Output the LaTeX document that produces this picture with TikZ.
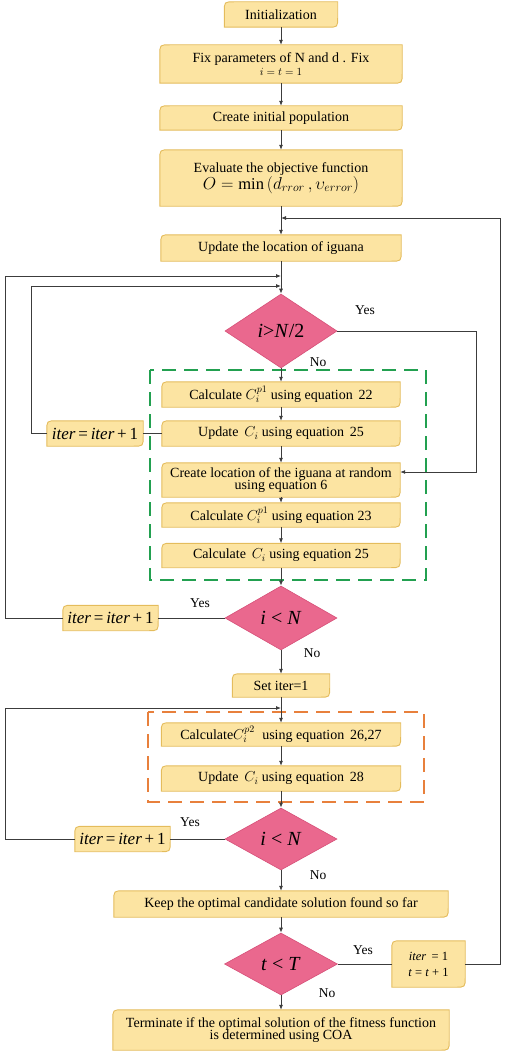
\documentclass[tikz,border=0pt]{standalone}
\usepackage{fontspec}
\setmainfont{Liberation Serif}
\usetikzlibrary{shapes.geometric,arrows.meta}
\pgfdeclarelayer{bg}
\pgfsetlayers{bg,main}
\definecolor{yfill}{RGB}{252,228,162}
\definecolor{yedge}{RGB}{228,188,92}
\definecolor{pfill}{RGB}{234,104,142}
\definecolor{pedge}{RGB}{214,80,120}
\definecolor{gdash}{RGB}{34,160,80}
\definecolor{odash}{RGB}{232,128,60}
\definecolor{lcol}{RGB}{60,60,60}
\begin{document}
\begin{tikzpicture}[x=1pt,y=-1pt,
 box/.style={rectangle, inner sep=1pt, align=center, font=\fontsize{14}{15.5}\selectfont, text=black},
 itbox/.style={box, font=\fontsize{17}{18}\selectfont},
 dia/.style={diamond, fill=pfill, draw=pedge, line width=0.6pt, inner sep=0pt, font=\fontsize{20}{22}\selectfont},
 flow/.style={draw=lcol, line width=0.8pt, -{Latex[length=5pt,width=4pt]}},
 link/.style={draw=lcol, line width=0.8pt},
 lab/.style={font=\fontsize{13.5}{14}\selectfont},
 yshape/.style={fill=yfill, draw=yedge, line width=0.9pt},
 ]
\useasboundingbox (0,0) rectangle (505,1054);
% dashed groups
\draw[gdash, line width=2.2pt, dash pattern=on 14pt off 8pt] (150,370) rectangle (426,580);
\draw[odash, line width=2.2pt, dash pattern=on 14pt off 8pt] (148,712) rectangle (424,802);
% nodes
\node[box, minimum width=113pt, minimum height=25pt] (init) at (281,14.5) {Initialization};
\node[box, minimum width=242pt, minimum height=38pt] (fix) at (281,64) {Fix parameters of N and d . Fix\\[-2pt]{\fontsize{10.5}{11}\selectfont$i=t=1$}};
\node[box, minimum width=242pt, minimum height=24pt] (create) at (281,118) {Create initial population};
\node[box, minimum width=242pt, minimum height=56pt] (eval) at (281,178) {Evaluate the objective function\\{\fontsize{16.5}{18}\selectfont$O=\min\,(d_{rror}\,,\upsilon_{error})$}};
\node[box, minimum width=240pt, minimum height=26pt] (upd) at (281,248) {Update the location of iguana};
\node[dia, minimum width=112pt, minimum height=74pt] (d1) at (281,331) {\textit{i}>\textit{N}/2};
\node[box, minimum width=238pt, minimum height=25pt] (c1) at (281,394.5) {Calculate $C_i^{p1}$ using equation\, 22};
\node[box, minimum width=238pt, minimum height=25pt] (u1) at (281,433.5) {Update\, $C_i$ using equation\, 25};
\node[itbox, minimum width=96pt, minimum height=25pt] (it1) at (95,433.5) {\textit{iter}\,=\,\textit{iter}\,+\,1};
\node[box, minimum width=238pt, minimum height=34pt] (cr) at (281,480) {Create location of the iguana at random\\[-3pt]using equation 6};
\node[box, minimum width=238pt, minimum height=24pt] (c2) at (281,515) {Calculate $C_i^{p1}$ using equation 23};
\node[box, minimum width=238pt, minimum height=24pt] (c3) at (281,555.5) {Calculate\, $C_i$ using equation 25};
\node[dia, minimum width=112pt, minimum height=64pt] (d2) at (281,618) {\textit{i} < \textit{N}};
\node[itbox, minimum width=95pt, minimum height=25pt] (it2) at (110.5,618) {\textit{iter}\,=\,\textit{iter}\,+\,1};
\node[box, minimum width=97pt, minimum height=23pt] (set) at (281,685.5) {Set iter=1};
\node[box, minimum width=239pt, minimum height=23pt] (c4) at (281,734.5) {Calculate$C_i^{p2}$\; using equation\, 26,27};
\node[box, minimum width=239pt, minimum height=25pt] (u2) at (281,778.5) {Update\, $C_i$ using equation\, 28};
\node[dia, minimum width=112pt, minimum height=62pt] (d3) at (281,839) {\textit{i} < \textit{N}};
\node[itbox, minimum width=95pt, minimum height=25pt] (it3) at (122.5,839) {\textit{iter}\,=\,\textit{iter}\,+\,1};
\node[box, minimum width=334pt, minimum height=26pt] (keep) at (281,904) {Keep the optimal candidate solution found so far};
\node[dia, minimum width=113pt, minimum height=62pt] (d4) at (281,964) {\textit{t} < \textit{T}};
\node[box, minimum width=73pt, minimum height=46pt, font=\fontsize{12.5}{16}\selectfont] (upd2) at (428.5,964) {\textit{iter}\, = 1\\\textit{t} = \textit{t} + 1};
\node[box, minimum width=336pt, minimum height=40pt] (term) at (281,1030) {Terminate if the optimal solution of the fitness function\\[-3pt]is determined using COA};
% yellow shapes
\begin{pgfonlayer}{bg}
\foreach \n in {init,fix,create,eval,upd,c1,u1,it1,cr,c2,c3,it2,set,c4,u2,it3,keep,upd2,term}
  \path[yshape] (\n.south west) -- ([yshift=-10pt]\n.north west) .. controls (\n.north west) .. ([xshift=10pt]\n.north west) -- (\n.north east) -- ([yshift=10pt]\n.south east) .. controls (\n.south east) .. ([xshift=-10pt]\n.south east) -- cycle;
\end{pgfonlayer}
% junction points on the main axis
\coordinate (j4) at (281,218);
\coordinate (j1) at (281,276);
\coordinate (j2) at (281,286);
\coordinate (j3) at (281,708);
% main flow
\draw[flow] (init.south) -- (fix.north);
\draw[flow] (fix.south) -- (create.north);
\draw[flow] (create.south) -- (eval.north);
\draw[flow] (eval.south) -- (upd.north);
\draw[flow] (upd.south) -- (d1.north);
\draw[flow] (d1.south) -- (c1.north);
\draw[flow] (c1.south) -- (u1.north);
\draw[flow] (u1.south) -- (cr.north);
\draw[flow] (cr.south) -- (c2.north);
\draw[flow] (c2.south) -- (c3.north);
\draw[flow] (c3.south) -- (d2.north);
\draw[flow] (d2.south) -- (set.north);
\draw[flow] (set.south) -- (c4.north);
\draw[flow] (c4.south) -- (u2.north);
\draw[flow] (u2.south) -- (d3.north);
\draw[flow] (d3.south) -- (keep.north);
\draw[flow] (keep.south) -- (d4.north);
\draw[flow] (d4.south) -- (term.north);
% side branches
\draw[flow] (d1.east) -- (476,331) |- ([yshift=8pt]cr.east);
\draw[link] (it1.east) -- (u1.west);
\draw[flow] (it1.west) -- (31,433.5) |- (j2);
\draw[link] (d2.west) -- (it2.east);
\draw[flow] (it2.west) -- (5,618) |- (j1);
\draw[link] (d3.west) -- (it3.east);
\draw[flow] (it3.west) -- (5,839) |- (j3);
\draw[link] (d4.east) -- (upd2.west);
\draw[flow] (upd2.east) -- (500,964) |- (j4);
% labels
\node[lab] (y1) at (365,310) {Yes};
\node[lab] (n1) at (318,362) {No};
\node[lab] (y2) at (200,603) {Yes};
\node[lab] (n2) at (312,653) {No};
\node[lab] (y3) at (190,822) {Yes};
\node[lab] (n3) at (318,875) {No};
\node[lab] (y4) at (363,950) {Yes};
\node[lab] (n4) at (327,993) {No};
\end{tikzpicture}
\end{document}
